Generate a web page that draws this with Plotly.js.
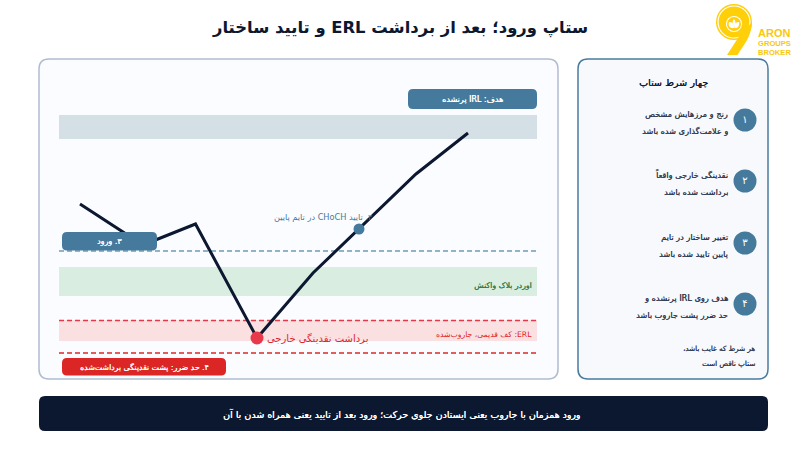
<!DOCTYPE html>
<html><head><meta charset="utf-8">
<script src="https://cdn.plot.ly/plotly-3.0.1.min.js"></script>
<style>html,body{margin:0;padding:0;background:#fff}#c{width:800px;height:450px}
.annotation text{direction:rtl;unicode-bidi:embed}</style>
</head><body><div id="c"></div>
<script>
const FONT = '"DejaVu Sans", "Noto Sans", sans-serif';

const priceX = [80, 143, 195.5, 257, 313, 359, 416, 468];
const priceY = [204, 245, 224, 338, 273, 229, 174, 133];
const sweepX = [257], sweepY = [338];
const chochX = [359], chochY = [229];

const stepX = [745, 745, 745, 745];
const stepY = [120, 181, 243, 304];
const stepNumbers = ['۱', '۲', '۳', '۴'];
const stepLines = [
  ['رنج و مرزهایش مشخص', 'و علامت‌گذاری شده باشد'],
  ['نقدینگی خارجی واقعاً', 'برداشت شده باشد'],
  ['تغییر ساختار در تایم', 'پایین تایید شده باشد'],
  ['هدف روی IRL پرنشده و', 'حد ضرر پشت جاروب باشد']
];
const title = 'ستاپ ورود؛ بعد از برداشت ERL و تایید ساختار';
const panelTitle = 'چهار شرط ستاپ';
const footerLines = ['هر شرط که غایب باشد،', 'ستاپ ناقص است'];
const bottomNote = 'ورود همزمان با جاروب یعنی ایستادن جلوی حرکت؛ ورود بعد از تایید یعنی همراه شدن با آن';
const targetLabel = 'هدف: IRL پرنشده';
const entryLabel = '۳. ورود';
const stopLabel = '۴. حد ضرر: پشت نقدینگی برداشت‌شده';
const chochLabel = '۲. تایید CHoCH در تایم پایین';
const obLabel = 'اوردر بلاک واکنش';
const erlLabel = 'ERL: کف قدیمی، جاروب‌شده';
const sweepLabel = 'برداشت نقدینگی خارجی';

function rr(x0, y0, x1, y1, r) {
  return `M${x0+r},${y0} L${x1-r},${y0} Q${x1},${y0} ${x1},${y0+r} L${x1},${y1-r} Q${x1},${y1} ${x1-r},${y1} L${x0+r},${y1} Q${x0},${y1} ${x0},${y1-r} L${x0},${y0+r} Q${x0},${y0} ${x0+r},${y0} Z`;
}
const box = (x0,y0,x1,y1,r,fill,line,w,layer) => ({type:'path',path:rr(x0,y0,x1,y1,r),fillcolor:fill,line:{color:line||fill,width:w||0},layer:layer||'below'});
const rect = (x0,y0,x1,y1,fill) => ({type:'rect',x0,y0,x1,y1,fillcolor:fill,line:{width:0},layer:'below'});
const dash = (y,color,w) => ({type:'line',x0:59,x1:537,y0:y,y1:y,line:{color,width:w||1.5,dash:'5px,3px'},layer:'below'});
const circ = (cx,cy,r,fill) => ({type:'circle',x0:cx-r,x1:cx+r,y0:cy-r,y1:cy+r,fillcolor:fill,line:{width:0},layer:'above'});
const blob = (p,fill) => ({type:'path',path:p,fillcolor:fill,line:{width:0},layer:'above'});

const shapes = [
  box(39,59,558,379,10,'#fbfcff','#b0bdd0',1.5),
  box(578,59,768,379,10,'#f7f9fd','#4a7b9d',1.5),
  rect(59,115,537,139,'#d4e0e6'),
  rect(59,267,537,296,'#d9eee0'),
  rect(59,320,537,341,'#fbe0e2'),
  dash(251,'#6f9ab5'),
  dash(320.5,'#e8394a'),
  dash(353,'#dc2626'),
  box(408,89,537,109,5,'#467a9c'),
  box(62,232,157,250.5,5,'#467a9c',null,0,'above'),
  box(62,358,226,375.5,5,'#dc2626',null,0,'above'),
  box(39,396,768,431,6,'#0c1730'),
  // logo
  circ(734,22,18,'#ffcf0a'),
  circ(734,22,16.6,'#ffffff'),
  circ(734,22,15.4,'#ffcf0a'),
  circ(734,24,8,'#ffffff'),
  circ(734,24,7,'#ffcf0a'),
  blob('M752,22 C752,36 743,46 737.5,55 L727,55 L738,38 Z','#ffcf0a'),
  blob('M734,28 C729,29 728,25 729,22 C732,22 735,24 734,28 Z','#ffffff'),
  blob('M734.5,28 C738,29 740,25 739,22 C736,22 733,24 734.5,28 Z','#ffffff'),
  blob('M734,26 C732,24 732,21 734,19 C736,21 736,24 734,26 Z','#ffffff')
];

const semi = c => `0.25px 0 0 ${c}`;
// Annotations are middle-anchored and measured by Plotly; the CSS rule above gives them RTL base direction.
const ann = (x,y,text,size,color,anchor,style) => ({
  x,y,xref:'x',yref:'y',
  text: style==='bold' ? '<b>'+text+'</b>' : text,
  showarrow:false,xanchor:anchor||'right',yanchor:'middle',borderpad:0,
  font:{family:FONT,size,color,shadow: style==='semi' ? semi(color) : 'none'}
});
const annotations = [
  ann(400,28,title,16.4,'#0c1730','center','bold'),
  ann(673,82,panelTitle,9.6,'#111a33','center','semi'),
  ann(472.5,99,targetLabel,8,'#ffffff','center','semi'),
  ann(109.5,241.5,entryLabel,8,'#ffffff','center','semi'),
  ann(144,367,stopLabel,7.8,'#ffffff','center','semi'),
  ann(374,216.5,chochLabel,8.2,'#467a9c','right'),
  ann(533,285,obLabel,7.8,'#2e7d52','right','semi'),
  ann(533,334,erlLabel,7.7,'#dc2626','right'),
  ann(369,338,sweepLabel,10,'#dc2626','right'),
  ann(401,414,bottomNote,9.5,'#ffffff','center','semi'),
  ann(756,348,footerLines[0],7.2,'#333c52','right','semi'),
  ann(756,363,footerLines[1],7.2,'#333c52','right','semi')
];
stepLines.forEach((ls,i)=>{
  annotations.push(ann(729,stepY[i]-6.5,ls[0],8.2,'#333c52','right','semi'));
  annotations.push(ann(729,stepY[i]+11,ls[1],8.2,'#333c52','right','semi'));
});
[['ARON',33,11],['GROUPS',43.5,7.6],['BROKER',52.2,7.6]].forEach(a=>{
  annotations.push({x:757,y:a[1],xref:'x',yref:'y',text:'<b>'+a[0]+'</b>',showarrow:false,xanchor:'left',yanchor:'middle',borderpad:0,font:{family:'"Liberation Sans"',size:a[2],color:'#f9c80e'}});
});

const traces = [
  {type:'scatter',mode:'lines',x:priceX,y:priceY,line:{color:'#0c1730',width:3},hoverinfo:'skip'},
  {type:'scatter',mode:'markers',x:sweepX,y:sweepY,marker:{size:13,color:'#e8394a'},hoverinfo:'skip'},
  {type:'scatter',mode:'markers',x:chochX,y:chochY,marker:{size:11,color:'#467a9c'},hoverinfo:'skip'},
  {type:'scatter',mode:'markers+text',x:stepX,y:stepY,text:stepNumbers,textposition:'middle center',textfont:{family:FONT,size:10,color:'#fff'},marker:{size:23,color:'#467a9c'},hoverinfo:'skip'}
];
const axis = r => ({range:r,visible:false,fixedrange:true});
Plotly.newPlot('c',traces,{
  width:800,height:450,margin:{l:0,r:0,t:0,b:0},showlegend:false,
  paper_bgcolor:'#fff',plot_bgcolor:'rgba(0,0,0,0)',
  xaxis:axis([0,800]),yaxis:axis([450,0]),shapes,annotations
},{displayModeBar:false,staticPlot:true});
</script></body></html>
